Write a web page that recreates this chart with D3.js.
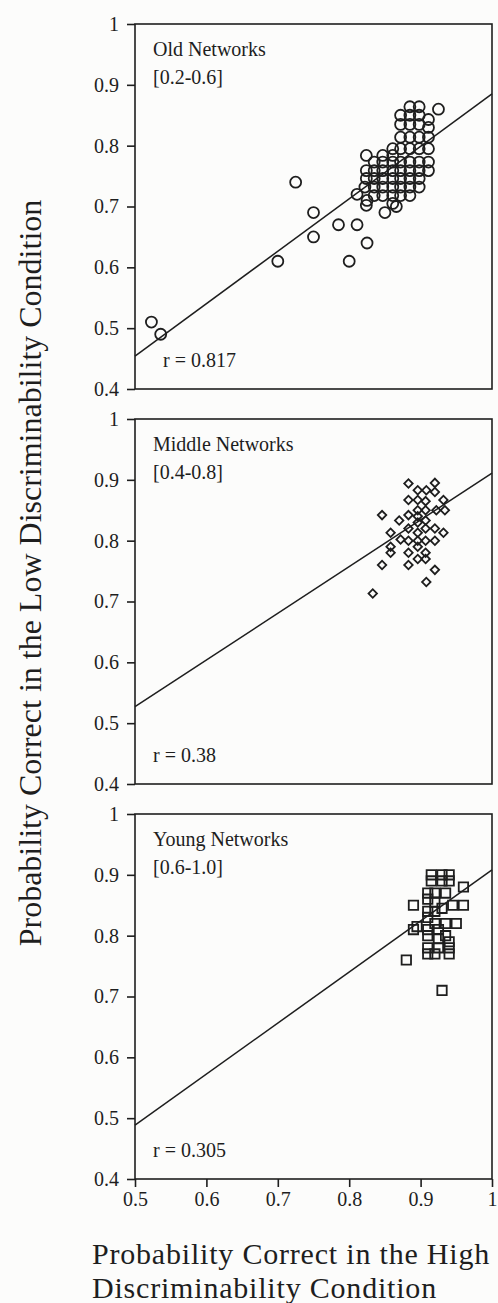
<!DOCTYPE html>
<html>
<head>
<meta charset="utf-8">
<script src="https://cdn.jsdelivr.net/npm/d3@7"></script>
<style>
  body { margin: 0; background: #fcfcfb; }
  svg { display: block; }
  text { font-family: "Liberation Serif", "Times New Roman", serif; fill: #1e1e1e; }
</style>
</head>
<body>
<script>

// values
var x_ticks = [0.5, 0.6, 0.7, 0.8, 0.9, 1];
var y_ticks = [0.4, 0.5, 0.6, 0.7, 0.8, 0.9, 1];

var panel_names  = ["Old Networks", "Middle Networks", "Young Networks"];
var panel_ranges = ["[0.2-0.6]", "[0.4-0.8]", "[0.6-1.0]"];
var r_values     = ["0.817", "0.38", "0.305"];
var fit_slopes     = [0.862, 0.768, 0.839];
var fit_intercepts = [0.023, 0.143, 0.069];

var old_points = [
  [0.523, 0.51], [0.536, 0.49], [0.70, 0.61], [0.725, 0.74], [0.75, 0.69], [0.75, 0.65],
  [0.785, 0.67], [0.80, 0.61], [0.811, 0.67], [0.825, 0.64], [0.811, 0.72], [0.925, 0.86],
  [0.825, 0.71], [0.85, 0.69], [0.866, 0.70],
  [0.885, 0.864], [0.898, 0.864],
  [0.872, 0.85], [0.885, 0.85], [0.898, 0.85], [0.911, 0.843],
  [0.872, 0.835], [0.885, 0.835], [0.898, 0.835], [0.911, 0.83],
  [0.872, 0.814], [0.885, 0.814], [0.898, 0.814], [0.911, 0.814],
  [0.861, 0.795], [0.872, 0.795], [0.885, 0.795], [0.898, 0.795], [0.911, 0.795],
  [0.824, 0.784], [0.847, 0.784], [0.861, 0.784],
  [0.835, 0.773], [0.847, 0.773], [0.861, 0.773], [0.872, 0.773], [0.885, 0.773], [0.898, 0.773], [0.911, 0.773],
  [0.824, 0.759], [0.835, 0.759], [0.847, 0.759], [0.861, 0.759], [0.872, 0.759], [0.885, 0.759], [0.898, 0.759], [0.911, 0.759],
  [0.824, 0.746], [0.835, 0.746], [0.847, 0.746], [0.861, 0.746], [0.872, 0.746], [0.885, 0.746], [0.898, 0.746],
  [0.822, 0.732], [0.835, 0.732], [0.847, 0.732], [0.861, 0.732], [0.872, 0.732], [0.885, 0.732], [0.898, 0.732],
  [0.835, 0.718], [0.847, 0.718], [0.861, 0.718], [0.872, 0.718], [0.885, 0.718],
  [0.824, 0.702], [0.861, 0.705]
];

var middle_points = [
  [0.883, 0.894], [0.896, 0.883], [0.908, 0.883], [0.92, 0.895], [0.92, 0.88],
  [0.883, 0.867], [0.896, 0.867], [0.907, 0.865], [0.932, 0.867], [0.934, 0.85],
  [0.922, 0.85], [0.846, 0.842], [0.87, 0.833], [0.883, 0.842], [0.896, 0.85],
  [0.907, 0.833], [0.896, 0.83], [0.858, 0.813], [0.872, 0.802], [0.883, 0.82],
  [0.896, 0.813], [0.907, 0.82], [0.92, 0.82], [0.932, 0.813], [0.92, 0.80],
  [0.883, 0.80], [0.896, 0.79], [0.858, 0.79], [0.858, 0.78], [0.883, 0.78],
  [0.907, 0.78], [0.896, 0.77], [0.907, 0.77], [0.846, 0.76], [0.883, 0.76],
  [0.92, 0.752], [0.908, 0.732], [0.833, 0.713], [0.896, 0.84], [0.907, 0.85],
  [0.896, 0.80], [0.907, 0.80]
];

var young_points = [
  [0.915, 0.90], [0.93, 0.90], [0.94, 0.90], [0.915, 0.89], [0.93, 0.89], [0.94, 0.89],
  [0.96, 0.88], [0.91, 0.87], [0.92, 0.87], [0.935, 0.87], [0.89, 0.85], [0.91, 0.86],
  [0.92, 0.855], [0.96, 0.85], [0.91, 0.84], [0.92, 0.84], [0.93, 0.845], [0.945, 0.85],
  [0.89, 0.81], [0.895, 0.815], [0.91, 0.83], [0.92, 0.82], [0.935, 0.82], [0.95, 0.82],
  [0.91, 0.81], [0.925, 0.81], [0.935, 0.80], [0.91, 0.80], [0.925, 0.795], [0.94, 0.79],
  [0.91, 0.78], [0.925, 0.78], [0.94, 0.78], [0.91, 0.77], [0.92, 0.77], [0.94, 0.77],
  [0.88, 0.76], [0.93, 0.71]
];

var all_points = [old_points, middle_points, young_points];

var width = 498, height = 1303;
var left = 135, right = 492;
var panel_tops = [24, 419, 814];
var panel_height = 365;

var svg = d3.select("body").append("svg")
    .attr("width", width)
    .attr("height", height);

var x = d3.scaleLinear().domain([0.5, 1]).range([left, right]);

// marker shapes: circles, diamonds (rotated squares), squares
var symbols = [
  d3.symbol().type(d3.symbolCircle).size(95),
  d3.symbol().type(d3.symbolSquare).size(36),
  d3.symbol().type(d3.symbolSquare).size(88)
];
var rotations = [0, 45, 0];

var tick_format = function (d) { return d === 1 ? "1" : d3.format(".1f")(d); };

panel_names.forEach(function (name, i) {
    var top = panel_tops[i];
    var y = d3.scaleLinear().domain([0.4, 1]).range([top + panel_height, top]);
    var g = svg.append("g");

    // frame
    g.append("rect")
        .attr("x", left)
        .attr("y", top)
        .attr("width", right - left)
        .attr("height", panel_height)
        .attr("fill", "none")
        .attr("stroke", "#1e1e1e")
        .attr("stroke-width", 1.6);

    var y_axis = g.append("g")
        .attr("transform", "translate(" + left + ",0)")
        .call(d3.axisLeft(y)
                .tickValues(y_ticks)
                .tickSize(8)
                .tickPadding(8)
                .tickFormat(tick_format));
    y_axis.select(".domain").remove();
    y_axis.selectAll("line").attr("stroke", "#1e1e1e").attr("stroke-width", 1.6);
    y_axis.selectAll("text")
        .attr("font-size", 20)
        .attr("font-family", "Liberation Serif, serif")
        .attr("fill", "#1e1e1e");

    if (i === panel_names.length - 1) {
        var x_axis = g.append("g")
            .attr("transform", "translate(0," + (top + panel_height) + ")")
            .call(d3.axisBottom(x)
                    .tickValues(x_ticks)
                    .tickSize(8)
                    .tickPadding(5)
                    .tickFormat(tick_format));
        x_axis.select(".domain").remove();
        x_axis.selectAll("line").attr("stroke", "#1e1e1e").attr("stroke-width", 1.6);
        x_axis.selectAll("text")
            .attr("font-size", 20)
            .attr("font-family", "Liberation Serif, serif")
            .attr("fill", "#1e1e1e");
    }

    // regression line
    var line = d3.line()
        .x(function (d) { return x(d); })
        .y(function (d) { return y(fit_intercepts[i] + fit_slopes[i] * d); });
    g.append("path")
        .attr("d", line(x.domain()))
        .attr("fill", "none")
        .attr("stroke", "#1e1e1e")
        .attr("stroke-width", 1.5);

    g.append("g")
        .selectAll("path")
        .data(all_points[i])
        .enter().append("path")
        .attr("d", symbols[i])
        .attr("transform", function (d) {
            return "translate(" + x(d[0]) + "," + y(d[1]) + ") rotate(" + rotations[i] + ")";
        })
        .attr("fill", "none")
        .attr("stroke", "#1e1e1e")
        .attr("stroke-width", 1.8);

    g.append("text")
        .attr("x", left + 18)
        .attr("y", top + 32)
        .attr("font-size", 20)
        .text(name);
    g.append("text")
        .attr("x", left + 18)
        .attr("y", top + 60)
        .attr("font-size", 20)
        .text(panel_ranges[i]);
    g.append("text")
        .attr("x", left + (i === 0 ? 28 : 18))
        .attr("y", top + panel_height - 22)
        .attr("font-size", 20)
        .text("r = " + r_values[i]);
});

svg.append("text")
    .attr("transform", "translate(41,573) rotate(-90)")
    .attr("text-anchor", "middle")
    .attr("font-size", 32)
    .text("Probability Correct in the Low Discriminability Condition");

// two-line x title; a touch of letter spacing keeps the scan's width
svg.append("text")
    .attr("x", 92)
    .attr("y", 1264)
    .attr("font-size", 30)
    .attr("letter-spacing", 0.8)
    .text("Probability Correct in the High");
svg.append("text")
    .attr("x", 92)
    .attr("y", 1298)
    .attr("font-size", 30)
    .attr("letter-spacing", 0.8)
    .text("Discriminability Condition");

</script>
</body>
</html>
